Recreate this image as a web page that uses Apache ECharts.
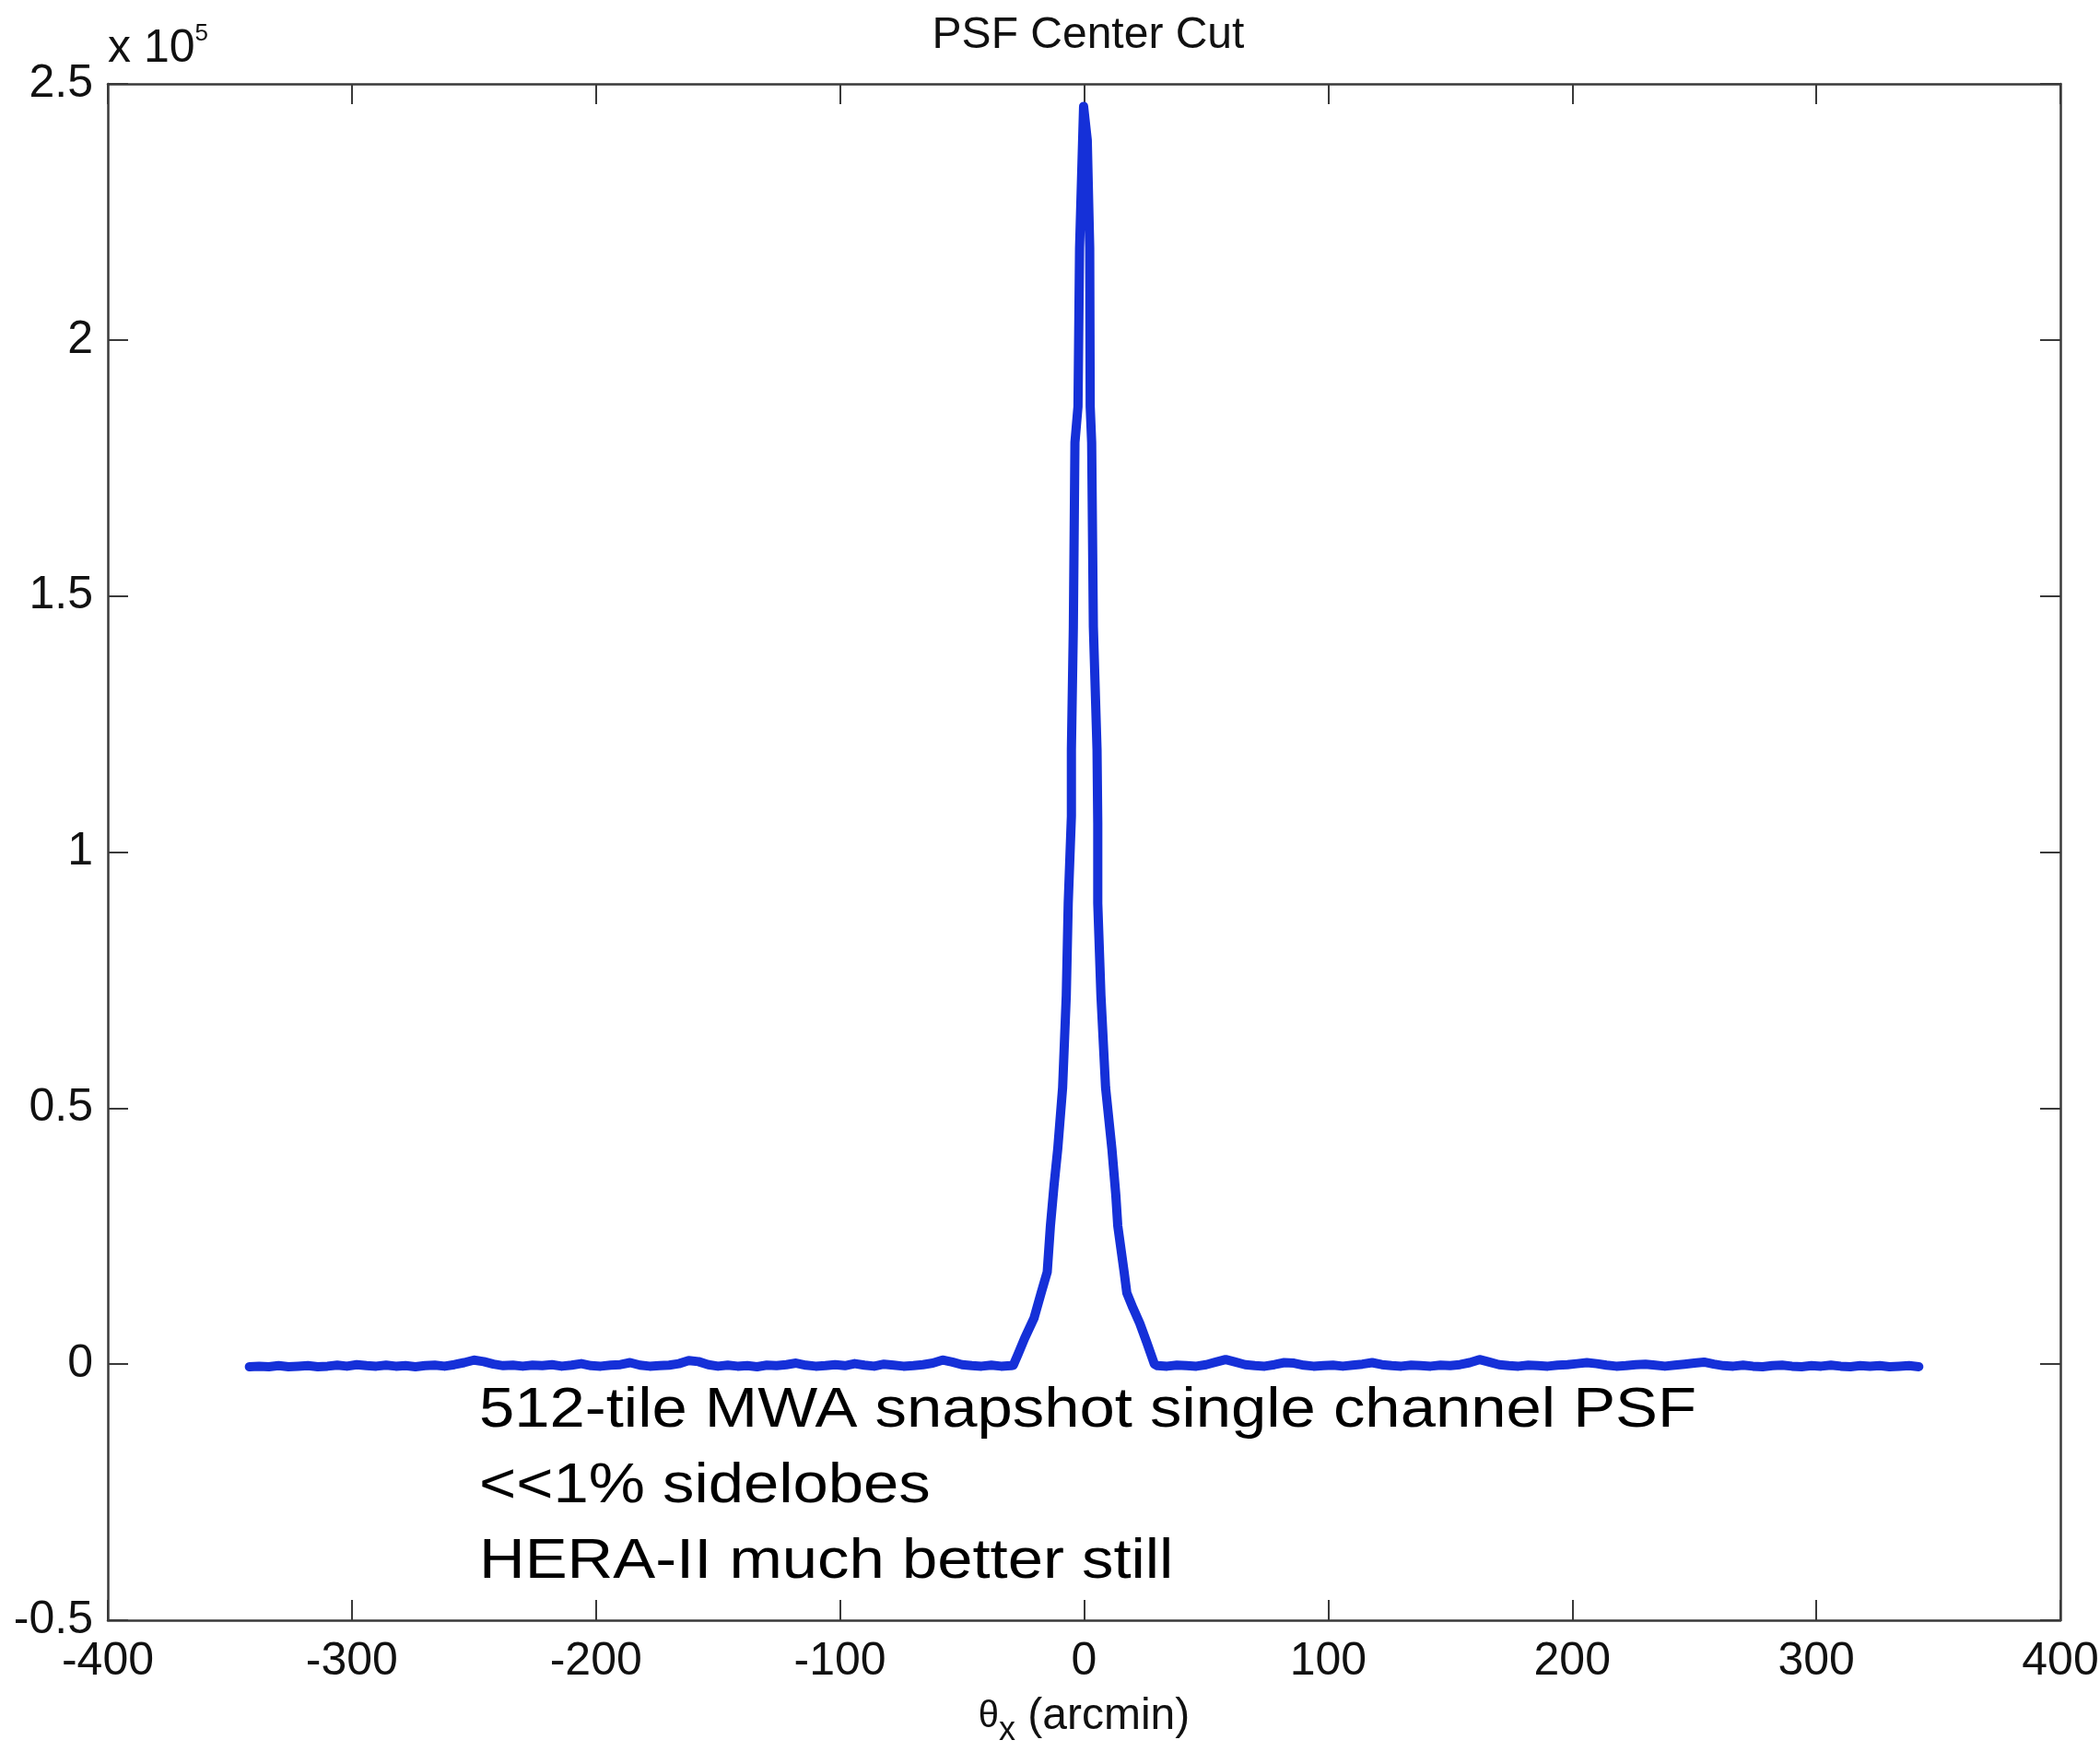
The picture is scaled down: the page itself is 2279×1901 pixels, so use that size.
<!DOCTYPE html>
<html>
<head>
<meta charset="utf-8">
<title>PSF Center Cut</title>
<script src="https://cdn.jsdelivr.net/npm/echarts@6/dist/echarts.min.js"></script>
<style>
  html, body { margin: 0; padding: 0; background: #fff; overflow: hidden; }
  #chart { width: 2279px; height: 1901px; }
</style>
</head>
<body>
<div id="chart"></div>
<script>
// PSF cut: theta_x (arcmin) vs amplitude in units of 1e5
const leftX = [
  -342, -338, -334, -330, -326, -322, -318, -314, -310, -306, -302, -298, -294, -290, -286, -282,
  -278, -274, -270, -266, -262, -258, -254, -250, -246, -242, -238, -234, -230, -226, -222, -218,
  -214, -210, -206, -202, -198, -194, -190, -186, -182, -178, -174, -170, -166, -162, -158, -154,
  -150, -146, -142, -138, -134, -130, -126, -122, -118, -114, -110, -106, -102, -98, -94, -90,
  -86, -82, -78, -74, -70, -66, -62, -58, -54, -50, -46, -42, -38, -34, -30
]
const leftY = [
  -0.005, -0.004, -0.005, -0.003, -0.005, -0.004, -0.003, -0.005, -0.004, -0.002, -0.004, -0.001, -0.003, -0.004, -0.002, -0.004,
  -0.003, -0.005, -0.003, -0.002, -0.004, -0.001, 0.003, 0.008, 0.005, 0.000, -0.003, -0.002, -0.004, -0.002, -0.003, -0.001,
  -0.004, -0.002, 0.001, -0.003, -0.004, -0.002, -0.001, 0.003, -0.002, -0.004, -0.003, -0.002, 0.001, 0.007, 0.005, -0.001,
  -0.004, -0.002, -0.004, -0.003, -0.005, -0.002, -0.003, -0.001, 0.002, -0.002, -0.004, -0.003, -0.001, -0.003, 0.001, -0.002,
  -0.004, 0.000, -0.002, -0.004, -0.003, -0.001, 0.002, 0.008, 0.004, -0.001, -0.003, -0.004, -0.002, -0.004, -0.003
]
const lobeX = [
  -29, -27, -24.4, -20.5, -17.6, -15.1, -13.8, -12.3, -10.8, -8.8, -7.3, -6.5, -5.2, -5.2, -4.4,
  -3.75, -2.5, -1.85, -0.6, -0.2,
  1.3, 2.3, 2.5, 3.1, 3.8, 5.3, 5.6, 5.6, 6.9, 8.8, 11.4, 13, 13.8, 16.4, 17.5, 20, 22.8, 25.5, 28.8
]
const lobeY = [
  -0.002, 0.02, 0.05, 0.09, 0.139, 0.18, 0.27, 0.35, 0.42, 0.54, 0.72, 0.90, 1.07, 1.20, 1.44,
  1.80, 1.87, 2.18, 2.39, 2.456,
  2.39, 2.18, 1.87, 1.80, 1.44, 1.20, 1.056, 0.90, 0.72, 0.54, 0.42, 0.33, 0.27, 0.18, 0.139, 0.11, 0.08, 0.045, 0.0
]
const rightX = [
  30, 34, 38, 42, 46, 50, 54, 58, 62, 66, 70, 74, 78, 82, 86, 90,
  94, 98, 102, 106, 110, 114, 118, 122, 126, 130, 134, 138, 142, 146, 150, 154,
  158, 162, 166, 170, 174, 178, 182, 186, 190, 194, 198, 202, 206, 210, 214, 218,
  222, 226, 230, 234, 238, 242, 246, 250, 254, 258, 262, 266, 270, 274, 278, 282,
  286, 290, 294, 298, 302, 306, 310, 314, 318, 322, 326, 330, 334, 338, 342
]
const rightY = [
  -0.003, -0.004, -0.002, -0.003, -0.004, -0.001, 0.004, 0.009, 0.004, -0.001, -0.003, -0.004, -0.001, 0.003, 0.002, -0.002,
  -0.004, -0.003, -0.002, -0.004, -0.002, 0.000, 0.003, -0.001, -0.003, -0.004, -0.002, -0.003, -0.004, -0.002, -0.003, -0.001,
  0.003, 0.009, 0.004, -0.001, -0.003, -0.004, -0.002, -0.003, -0.004, -0.002, -0.001, 0.001, 0.003, 0.001, -0.002, -0.004,
  -0.003, -0.001, 0.000, -0.002, -0.004, -0.002, 0.000, 0.002, 0.004, 0.000, -0.003, -0.004, -0.002, -0.004, -0.005, -0.003,
  -0.002, -0.004, -0.005, -0.003, -0.004, -0.002, -0.004, -0.005, -0.003, -0.004, -0.003, -0.005, -0.004, -0.003, -0.005
]

const xTicks = { min: -400, max: 400, interval: 100 }
const yTicks = { min: -0.5, max: 2.5, interval: 0.5 }
const noteLines = [
  '512-tile MWA snapshot single channel PSF',
  '<<1% sidelobes',
  'HERA-II much better still'
]

const FONT = '"Liberation Sans", Arial, Helvetica, sans-serif'
const axisColor = '#3a3a3a'

const thetaX = leftX.concat(lobeX, rightX)
const psfAmp = leftY.concat(lobeY, rightY)

const chart = echarts.init(document.getElementById('chart'))

function boxAxis(extra) {
  return Object.assign({
    type: 'value',
    axisLine: { show: true, onZero: false, lineStyle: { color: axisColor, width: 2.5 } },
    axisTick: { show: true, inside: true, length: 22, lineStyle: { color: axisColor, width: 2 } },
    splitLine: { show: false },
    axisLabel: { show: false }
  }, extra)
}

const labelStyle = { color: '#111', fontSize: 50, fontFamily: FONT }

const option = {
  backgroundColor: '#fff',
  animation: false,
  title: {
    text: 'PSF Center Cut',
    left: 1176,
    textAlign: 'center',
    top: 10,
    textStyle: { color: '#111', fontSize: 48, fontWeight: 'normal', fontFamily: FONT }
  },
  grid: { left: 117, right: 43, top: 91, bottom: 143, containLabel: false, outerBoundsMode: 'none' },
  xAxis: [
    boxAxis(Object.assign({}, xTicks, {
      position: 'bottom',
      axisLabel: Object.assign({ show: true, margin: 20 }, labelStyle),
      name: '{th|θ}{sub|x} (arcmin)',
      nameLocation: 'middle',
      nameGap: 72,
      nameTextStyle: {
        color: '#111', fontSize: 48, fontFamily: FONT,
        rich: {
          th: { fontSize: 40, fontFamily: FONT, color: '#111' },
          sub: { fontSize: 36, fontFamily: FONT, color: '#111', padding: [30, 0, 0, 0] }
        }
      }
    })),
    boxAxis(Object.assign({}, xTicks, { position: 'top' }))
  ],
  yAxis: [
    boxAxis(Object.assign({}, yTicks, {
      position: 'left',
      axisLabel: Object.assign({ show: true, margin: 16 }, labelStyle)
    })),
    boxAxis(Object.assign({}, yTicks, { position: 'right' }))
  ],
  graphic: [
    {
      type: 'text',
      left: 117,
      top: 24,
      style: {
        text: '{a|x 10}{b|5}',
        rich: {
          a: { fontSize: 50, fontFamily: FONT, fill: '#111', verticalAlign: 'bottom', lineHeight: 54 },
          b: { fontSize: 26, fontFamily: FONT, fill: '#111', verticalAlign: 'top', lineHeight: 54 }
        }
      }
    },
    {
      type: 'text',
      x: 520,
      y: 1490,
      scaleX: 1.11,
      style: {
        text: noteLines.join('\n'),
        fontSize: 62,
        lineHeight: 82,
        fontFamily: FONT,
        fill: '#000'
      }
    }
  ],
  series: [
    {
      type: 'line',
      xAxisIndex: 0,
      yAxisIndex: 0,
      data: thetaX.map((x, i) => [x, psfAmp[i]]),
      showSymbol: false,
      smooth: false,
      lineStyle: { color: '#1530d8', width: 10, join: 'round', cap: 'round' }
    }
  ]
}

chart.setOption(option)
</script>
</body>
</html>
